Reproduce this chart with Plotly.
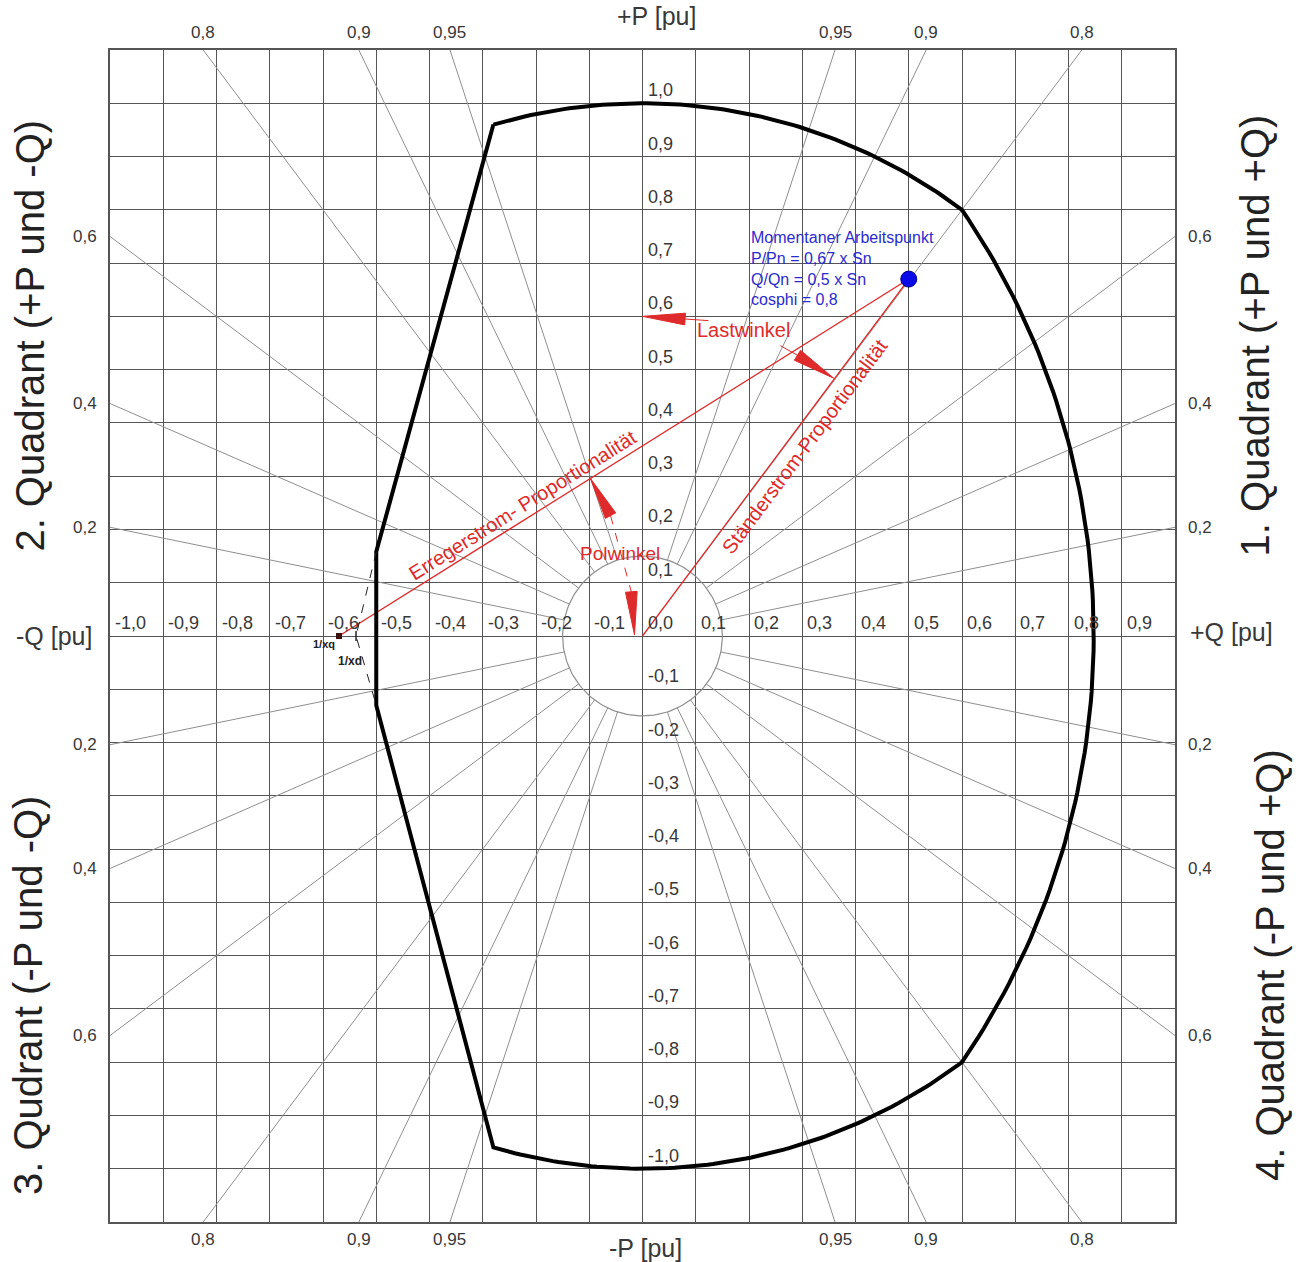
import numpy as np
import plotly.graph_objects as go

FONT = "Liberation Sans, Arial, sans-serif"

# ---------------- axes and grid ----------------
Q_RANGE = [-1.0, 1.0]          # reactive power [pu]
P_RANGE = [-1.1, 1.1]          # active power [pu]
GRID_STEP = 0.1

q_ticks = [-1.0, -0.9, -0.8, -0.7, -0.6, -0.5, -0.4, -0.3, -0.2, -0.1,
           0.0, 0.1, 0.2, 0.3, 0.4, 0.5, 0.6, 0.7, 0.8, 0.9]
q_tick_text = ["-1,0", "-0,9", "-0,8", "-0,7", "-0,6", "-0,5", "-0,4", "-0,3", "-0,2", "-0,1",
               "0,0", "0,1", "0,2", "0,3", "0,4", "0,5", "0,6", "0,7", "0,8", "0,9"]
p_ticks = [1.0, 0.9, 0.8, 0.7, 0.6, 0.5, 0.4, 0.3, 0.2, 0.1,
           -0.1, -0.2, -0.3, -0.4, -0.5, -0.6, -0.7, -0.8, -0.9, -1.0]
p_tick_text = ["1,0", "0,9", "0,8", "0,7", "0,6", "0,5", "0,4", "0,3", "0,2", "0,1",
               "-0,1", "-0,2", "-0,3", "-0,4", "-0,5", "-0,6", "-0,7", "-0,8", "-0,9", "-1,0"]

# ---------------- power factor rays ----------------
cos_phi = [0.2, 0.4, 0.6, 0.8, 0.9, 0.95]
cos_phi_text = ["0,2", "0,4", "0,6", "0,8", "0,9", "0,95"]
INNER_R = 0.15                 # minimum-load circle

# ---------------- capability limits ----------------
S_LIMIT = 1.0                  # stator current limit (apparent power)
corner_q, corner_p = -0.28, 0.96   # stator limit / under-excitation junction
exc_q, exc_p = 0.6, 0.8            # stator limit / exciter limit junction
XQ_INV = -0.57                 # 1/xq, centre of the exciter current circle
XD_INV = -0.538                # 1/xd
UE_Q = -0.5                    # under-excitation limit
UE_P_TOP = 0.158
UE_P_BOT = -0.13

# ---------------- operating point ----------------
OP_Q = 0.5
OP_P = 0.67

# annotation arrow geometry (tip, base) in pu
last_tips = [(0.0, 0.60), (0.359, 0.484)]
last_bases = [(0.08, 0.595), (0.291, 0.527)]
last_tails = [(0.124, 0.592), (0.259, 0.545)]
pol_tips = [(-0.098, 0.296), (-0.015, 0.002)]
pol_bases = [(-0.060, 0.226), (-0.021, 0.083)]

RED = "#de2a2a"
BLUE_TXT = "#2b2bd0"
GRID = "#555555"
RAY = "#8f8f8f"
TXT = "#383838"


def to_paper(q, p):
    """Convert a pu position to paper coordinates (for text outside the axes)."""
    return ((q - Q_RANGE[0]) / (Q_RANGE[1] - Q_RANGE[0]),
            (p - P_RANGE[0]) / (P_RANGE[1] - P_RANGE[0]))


fig = go.Figure()

# power-factor rays from the minimum-load circle to the frame
rad_q, rad_p, annots = [], [], []
for c, txt in zip(cos_phi, cos_phi_text):
    s = np.sqrt(1 - c * c)
    t_side = Q_RANGE[1] / s
    t_top = P_RANGE[1] / c
    t_end = min(t_side, t_top)
    for sq in (1, -1):
        for sp in (1, -1):
            rad_q += [sq * s * INNER_R, sq * s * t_end, None]
            rad_p += [sp * c * INNER_R, sp * c * t_end, None]
            if t_side < t_top:
                annots.append(dict(x=sq * Q_RANGE[1], y=sp * c * t_end, text=txt,
                                   xanchor="left" if sq > 0 else "right", yanchor="middle",
                                   xshift=11 * sq, font=dict(size=17, color=TXT, family=FONT)))
            else:
                annots.append(dict(x=sq * s * t_end, y=sp * P_RANGE[1], text=txt,
                                   xanchor="center", yanchor="bottom" if sp > 0 else "top",
                                   yshift=6 * sp, font=dict(size=17, color=TXT, family=FONT)))

fig.add_trace(go.Scatter(x=rad_q, y=rad_p, mode="lines",
                         line=dict(color=RAY, width=1), hoverinfo="skip"))

# minimum-load circle
th = np.linspace(0, 2 * np.pi, 181)
fig.add_trace(go.Scatter(x=INNER_R * np.cos(th), y=INNER_R * np.sin(th), mode="lines",
                         line=dict(color=RAY, width=1.2), hoverinfo="skip"))

# red construction lines: stator current and excitation current
fig.add_trace(go.Scatter(x=[0, OP_Q, None, XQ_INV, OP_Q], y=[0, OP_P, None, 0, OP_P],
                         mode="lines", line=dict(color=RED, width=1.3), hoverinfo="skip"))

# capability curve
a0, a1 = np.arctan2(corner_p, corner_q), np.arctan2(exc_p, exc_q)
ta = np.linspace(a0, a1, 90)
r_exc = np.hypot(exc_q - XQ_INV, exc_p)
b0 = np.arctan2(exc_p, exc_q - XQ_INV)
tb = np.linspace(b0, -b0, 90)
tc = np.linspace(-a1, -a0, 90)
cap_q = np.concatenate([S_LIMIT * np.cos(ta), XQ_INV + r_exc * np.cos(tb), S_LIMIT * np.cos(tc),
                        [UE_Q, UE_Q, corner_q]])
cap_p = np.concatenate([S_LIMIT * np.sin(ta), r_exc * np.sin(tb), S_LIMIT * np.sin(tc),
                        [UE_P_BOT, UE_P_TOP, corner_p]])
fig.add_trace(go.Scatter(x=cap_q, y=cap_p, mode="lines",
                         line=dict(color="black", width=4), hoverinfo="skip"))

# theoretical stability limit (dashed)
fig.add_trace(go.Scatter(x=[UE_Q, XD_INV, UE_Q], y=[UE_P_TOP, 0, UE_P_BOT], mode="lines",
                         line=dict(color="#222222", width=1, dash="dash"), hoverinfo="skip"))

# angle annotation leaders
fig.add_trace(go.Scatter(x=[last_bases[0][0], last_tails[0][0], None, last_tails[1][0], last_bases[1][0]],
                         y=[last_bases[0][1], last_tails[0][1], None, last_tails[1][1], last_bases[1][1]],
                         mode="lines", line=dict(color=RED, width=1), hoverinfo="skip"))
fig.add_trace(go.Scatter(x=[pol_bases[0][0], pol_bases[1][0]], y=[pol_bases[0][1], pol_bases[1][1]],
                         mode="lines", line=dict(color=RED, width=1, dash="dash"), hoverinfo="skip"))


def arrow_head(tip, base, half_w):
    dq, dp = tip[0] - base[0], tip[1] - base[1]
    length = np.hypot(dq, dp)
    nq, npp = -dp / length * half_w, dq / length * half_w
    return ([base[0] + nq, tip[0], base[0] - nq, base[0] + nq],
            [base[1] + npp, tip[1], base[1] - npp, base[1] + npp])


for tip, base in zip(last_tips + pol_tips, last_bases + pol_bases):
    hq, hp = arrow_head(tip, base, 0.011)
    fig.add_trace(go.Scatter(x=hq, y=hp, mode="lines", fill="toself", fillcolor=RED,
                             line=dict(color=RED, width=1), hoverinfo="skip"))

# 1/xq and 1/xd markers
fig.add_trace(go.Scatter(x=[XQ_INV], y=[0], mode="markers",
                         marker=dict(symbol="square", size=6, color="#3a1010"), hoverinfo="skip"))
fig.add_trace(go.Scatter(x=[XD_INV], y=[0], mode="markers",
                         marker=dict(symbol="line-ns", size=7, line=dict(color="#222", width=1.5)),
                         hoverinfo="skip"))

# operating point
fig.add_trace(go.Scatter(x=[OP_Q], y=[OP_P], mode="markers",
                         marker=dict(size=16, color="#0a0ae6", line=dict(color="#00008a", width=1)),
                         hoverinfo="skip"))

# axis tick labels along the centre lines
for v, t in zip(q_ticks, q_tick_text):
    annots.append(dict(x=v, y=0, text=t, xanchor="left", yanchor="bottom", xshift=3, yshift=1,
                       font=dict(size=18, color=TXT, family=FONT)))
for v, t in zip(p_ticks, p_tick_text):
    annots.append(dict(x=0, y=v, text=t, xanchor="left", yanchor="bottom", xshift=3, yshift=1,
                       font=dict(size=18, color=TXT, family=FONT)))

# texts outside the plotting area (paper coordinates)
outer = []
title_font = dict(size=25, color=TXT, family=FONT)
outer += [
    (0.027, 1.163, "+P [pu]", 0, title_font),
    (0.005, -1.148, "-P [pu]", 0, title_font),
    (-1.106, 0.0, "-Q [pu]", 0, title_font),
    (1.106, 0.008, "+Q [pu]", 0, title_font),
]
quad = dict(size=40, color="#222222", family=FONT)
outer += [
    (1.150, 0.564, "1. Quadrant (+P und +Q)", -90, quad),
    (-1.152, 0.564, "2. Quadrant (+P und -Q)", -90, quad),
    (-1.154, -0.674, "3. Qudrant (-P und -Q)", -90, quad),
    (1.178, -0.618, "4. Quadrant (-P und +Q)", -90, quad),
]
for q, p, t, ang, fnt in outer:
    px, py = to_paper(q, p)
    annots.append(dict(x=px, y=py, xref="paper", yref="paper", xanchor="center", yanchor="middle",
                       text=t, textangle=ang, font=fnt))

# labels on the construction lines
ang_s = np.degrees(np.arctan2(OP_P, OP_Q))
f_s = 0.56
annots.append(dict(x=OP_Q * f_s, y=OP_P * f_s, text="Ständerstrom-Proportionalität",
                   textangle=-ang_s, xshift=17 * np.sin(np.radians(ang_s)),
                   yshift=-17 * np.cos(np.radians(ang_s)),
                   font=dict(size=20, color=RED, family=FONT)))
ang_e = np.degrees(np.arctan2(OP_P, OP_Q - XQ_INV))
f_e = 0.335
annots.append(dict(x=XQ_INV + (OP_Q - XQ_INV) * f_e, y=OP_P * f_e, text="Erregerstrom- Proportionalität",
                   textangle=-ang_e, xshift=-13 * np.sin(np.radians(ang_e)),
                   yshift=13 * np.cos(np.radians(ang_e)),
                   font=dict(size=20, color=RED, family=FONT)))
annots.append(dict(x=0.19, y=0.575, text="Lastwinkel", font=dict(size=20, color=RED, family=FONT)))
annots.append(dict(x=-0.042, y=0.155, text="Polwinkel", font=dict(size=19, color=RED, family=FONT)))

# operating point description
annots.append(dict(x=0.200, y=0.767, xanchor="left", yanchor="top", align="left",
                   text="Momentaner Arbeitspunkt<br>P/Pn = 0,67 x Sn<br>Q/Qn = 0,5 x Sn<br>cosphi = 0,8",
                   font=dict(size=16, color=BLUE_TXT, family=FONT)))

annots.append(dict(x=XQ_INV, y=0, text="<b>1/xq</b>", xanchor="right", yanchor="top",
                   xshift=-2, yshift=0, font=dict(size=11, color="#222", family=FONT)))
annots.append(dict(x=XD_INV, y=0, text="<b>1/xd</b>", xanchor="center", yanchor="top",
                   xshift=-6, yshift=-16, font=dict(size=12, color="#222", family=FONT)))

for a in annots:
    a.setdefault("showarrow", False)
    a.setdefault("xref", "x")
    a.setdefault("yref", "y")
    a.setdefault("xanchor", "center")
    a.setdefault("yanchor", "middle")

axis_common = dict(dtick=GRID_STEP, tick0=0, showgrid=True, gridcolor=GRID, gridwidth=1,
                   zeroline=True, zerolinecolor=GRID, zerolinewidth=1,
                   showticklabels=False, ticks="", showline=True, mirror=True,
                   linecolor="#555555", linewidth=1.5, fixedrange=True)

fig.update_layout(
    width=1305, height=1262,
    margin=dict(l=110, r=130, t=50, b=40),
    plot_bgcolor="white", paper_bgcolor="white",
    showlegend=False,
    xaxis=dict(range=Q_RANGE, **axis_common),
    yaxis=dict(range=P_RANGE, **axis_common),
    annotations=annots,
)

fig.write_html("out.html")
